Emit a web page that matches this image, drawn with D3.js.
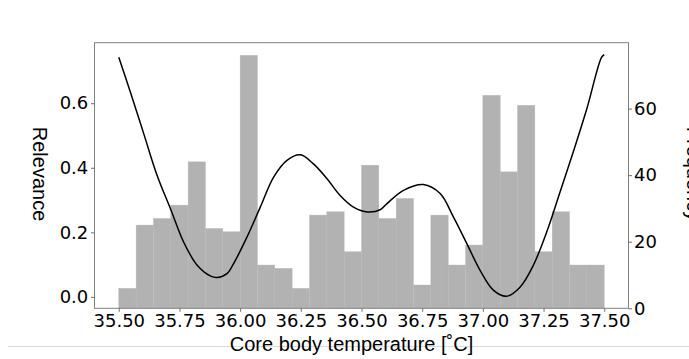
<!DOCTYPE html>
<html>
<head>
<meta charset="utf-8">
<script src="https://cdn.jsdelivr.net/npm/d3@7"></script>
<style>
  html, body { margin: 0; padding: 0; background: #fff; }
  svg { display: block; }
</style>
</head>
<body>
<svg id="chart" width="689" height="359"></svg>
<script>
// Histogram of core body temperature (right axis) with relevance curve (left axis)
const binStart = 35.5;
const binEnd = 37.5;
const binCounts = [6, 25, 27, 31, 44, 24, 23, 76, 13, 12, 6, 28, 29, 17,
                   43, 27, 33, 7, 28, 13, 19, 64, 41, 61, 17, 29, 13, 13];

const curveTemp = [35.500, 35.548, 35.603, 35.658, 35.713, 35.767, 35.823, 35.877, 35.905,
                   35.946, 35.973, 36.028, 36.083, 36.138, 36.193, 36.248, 36.302, 36.358,
                   36.412, 36.467, 36.525, 36.577, 36.605, 36.673, 36.755, 36.824, 36.879,
                   36.934, 36.988, 37.043, 37.098, 37.153, 37.208, 37.263, 37.318, 37.372,
                   37.428, 37.489, 37.500];
const curveRelevance = [0.742, 0.634, 0.505, 0.376, 0.273, 0.170, 0.098, 0.065, 0.060,
                        0.072, 0.103, 0.185, 0.278, 0.371, 0.423, 0.440, 0.412, 0.366,
                        0.314, 0.278, 0.263, 0.270, 0.289, 0.330, 0.348, 0.320, 0.247,
                        0.165, 0.083, 0.021, 0.002, 0.030, 0.098, 0.201, 0.325, 0.448,
                        0.582, 0.742, 0.750];

const xTicks = [35.5, 35.75, 36.0, 36.25, 36.5, 36.75, 37.0, 37.25, 37.5];
const relevanceTicks = [0.0, 0.2, 0.4, 0.6];
const frequencyTicks = [0, 20, 40, 60];

const xLabel = "Core body temperature [˚C]";
const leftLabel = "Relevance";
const rightLabel = "Frequency";

const W = 689, H = 359;
const plot = { left: 94.5, right: 628.5, top: 42.7, bottom: 308.3 };

const svg = d3.select("#chart");
svg.append("rect").attr("width", W).attr("height", H).attr("fill", "#fff");

// 5% margins on each side, like the usual auto-scaled limits
const pad = (lo, hi) => [lo - 0.05 * (hi - lo), hi + 0.05 * (hi - lo)];

const x = d3.scaleLinear().domain(pad(binStart, binEnd)).range([plot.left, plot.right]);
const rMin = d3.min(curveRelevance), rMax = d3.max(curveRelevance);
const yRel = d3.scaleLinear().domain(pad(rMin, rMax)).range([plot.bottom, plot.top]);
const yFreq = d3.scaleLinear().domain([0, d3.max(binCounts) * 1.05]).range([plot.bottom, plot.top]);

const binWidth = (binEnd - binStart) / binCounts.length;
const bins = binCounts.map((c, i) => ({ x0: binStart + i * binWidth, x1: binStart + (i + 1) * binWidth, count: c }));

// faint separator line across the bottom
svg.append("line")
  .attr("x1", 8).attr("x2", W).attr("y1", 346.5).attr("y2", 346.5)
  .attr("stroke", "#dcdcdc").attr("stroke-width", 1);

const clip = svg.append("clipPath").attr("id", "plotclip")
  .append("rect").attr("x", plot.left).attr("y", plot.top)
  .attr("width", plot.right - plot.left).attr("height", plot.bottom - plot.top);

const g = svg.append("g").attr("clip-path", "url(#plotclip)");

g.selectAll("rect.bar").data(bins).join("rect")
  .attr("class", "bar")
  .attr("x", d => x(d.x0))
  .attr("width", d => x(d.x1) - x(d.x0))
  .attr("y", d => yFreq(d.count))
  .attr("height", d => yFreq(0) - yFreq(d.count))
  .attr("fill", "#b2b2b2")
  .attr("stroke", "#b8b8b8")
  .attr("stroke-width", 0.4);

const line = d3.line()
  .x((d, i) => x(curveTemp[i]))
  .y(d => yRel(d))
  .curve(d3.curveCatmullRom.alpha(0.5));

g.append("path")
  .datum(curveRelevance)
  .attr("d", line)
  .attr("fill", "none")
  .attr("stroke", "#000")
  .attr("stroke-width", 1.5);

// frame
svg.append("rect")
  .attr("x", plot.left).attr("y", plot.top)
  .attr("width", plot.right - plot.left).attr("height", plot.bottom - plot.top)
  .attr("fill", "none").attr("stroke", "#808080").attr("stroke-width", 1);

function styleAxis(sel) {
  sel.select(".domain").remove();
  sel.selectAll(".tick line").attr("stroke", "#6f6f6f").attr("stroke-width", 1);
  sel.selectAll(".tick text")
    .attr("fill", "#000")
    .style("font-family", "'DejaVu Sans', sans-serif")
    .style("font-size", "18px");
}

svg.append("g")
  .attr("transform", `translate(0,${plot.bottom})`)
  .call(d3.axisBottom(x).tickValues(xTicks).tickFormat(d3.format(".2f")).tickSize(3.5).tickPadding(2.7))
  .call(styleAxis);

svg.append("g")
  .attr("transform", `translate(${plot.left},0)`)
  .call(d3.axisLeft(yRel).tickValues(relevanceTicks).tickFormat(d3.format(".1f")).tickSize(3.5).tickPadding(2.7))
  .call(styleAxis);

svg.append("g")
  .attr("transform", `translate(${plot.right},0)`)
  .call(d3.axisRight(yFreq).tickValues(frequencyTicks).tickFormat(d3.format("d")).tickSize(3.5).tickPadding(2))
  .call(styleAxis);

const labelFont = "'Liberation Sans', Arial, sans-serif";
const midY = (plot.top + plot.bottom) / 2 - 1.5;

svg.append("text")
  .attr("x", (plot.left + plot.right) / 2 - 10).attr("y", 350.5)
  .attr("text-anchor", "middle")
  .style("font-family", labelFont).style("font-size", "20px")
  .attr("fill", "#000")
  .text(xLabel);

svg.append("text")
  .attr("transform", `translate(33,${midY}) rotate(90)`)
  .attr("text-anchor", "middle")
  .style("font-family", labelFont).style("font-size", "20px")
  .attr("fill", "#000")
  .text(leftLabel);

svg.append("text")
  .attr("transform", `translate(687,${midY}) rotate(90)`)
  .attr("text-anchor", "middle")
  .style("font-family", labelFont).style("font-size", "20px")
  .attr("fill", "#000")
  .text(rightLabel);
</script>
</body>
</html>
